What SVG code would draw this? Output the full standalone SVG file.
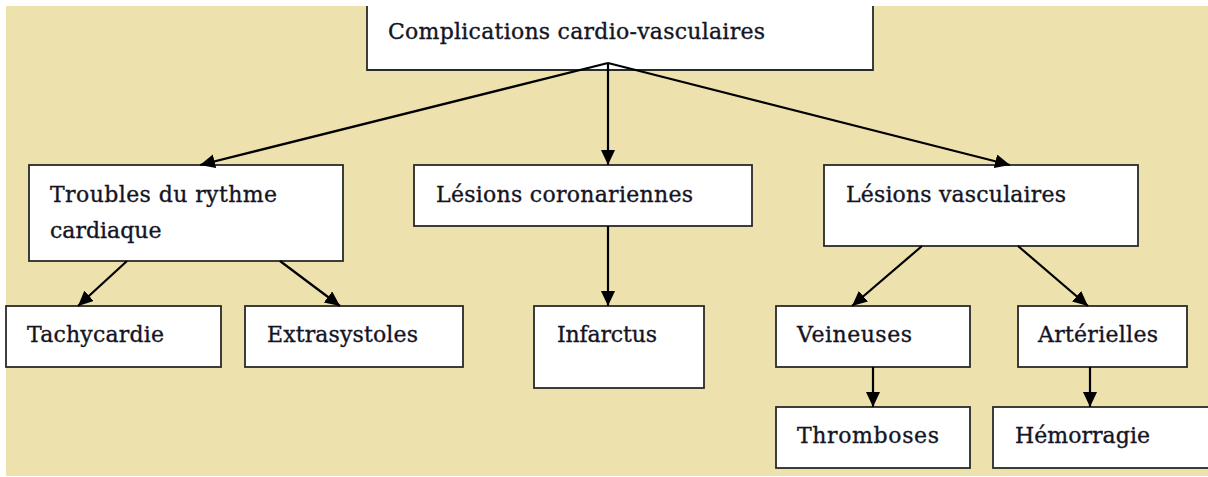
<svg xmlns="http://www.w3.org/2000/svg" width="1208" height="477" viewBox="0 0 1208 477">
<defs>
<style>
.box{fill:#fff;stroke:#2a2a2a;stroke-width:1.8}
.lbl{font-family:"DejaVu Serif","Liberation Serif",serif;font-size:22px;fill:#141424;stroke:#141424;stroke-width:0.35}
.con{stroke:#000;stroke-width:2.2;fill:none;marker-end:url(#ah)}
</style>
<marker id="ah" markerUnits="userSpaceOnUse" markerWidth="16" markerHeight="15" refX="15" refY="7" orient="auto">
<path d="M0,0 L15,7 L0,14 z" fill="#000"/>
</marker>
</defs>
<rect x="0" y="0" width="1208" height="477" fill="#fff"/>
<rect x="6" y="6" width="1202" height="470" fill="#EDE1AE"/>
<g id="n-root">
<rect x="367" y="0" width="506" height="70" fill="#fff"/>
<path d="M367,6 V70 H873 V6" fill="none" stroke="#2a2a2a" stroke-width="1.8"/>
<text class="lbl" x="388" y="39" textLength="377">Complications cardio-vasculaires</text>
</g>
<g id="n-troubles">
<rect class="box" x="29" y="165" width="314" height="96"/>
<text class="lbl" x="50" y="202" textLength="227">Troubles du rythme</text>
<text class="lbl" x="50" y="238">cardiaque</text>
</g>
<g id="n-coronariennes">
<rect class="box" x="414" y="165" width="338" height="61"/>
<text class="lbl" x="436" y="202" textLength="257">Lésions coronariennes</text>
</g>
<g id="n-vasculaires">
<rect class="box" x="824" y="165" width="314" height="81"/>
<text class="lbl" x="846" y="202" textLength="220">Lésions vasculaires</text>
</g>
<g id="n-tachycardie">
<rect class="box" x="6" y="306" width="215" height="61"/>
<text class="lbl" x="27" y="342" textLength="137">Tachycardie</text>
</g>
<g id="n-extrasystoles">
<rect class="box" x="245" y="306" width="218" height="61"/>
<text class="lbl" x="267" y="342" textLength="151">Extrasystoles</text>
</g>
<g id="n-infarctus">
<rect class="box" x="534" y="306" width="170" height="82"/>
<text class="lbl" x="557" y="342" textLength="100">Infarctus</text>
</g>
<g id="n-veineuses">
<rect class="box" x="776" y="306" width="194" height="61"/>
<text class="lbl" x="797" y="342" textLength="115">Veineuses</text>
</g>
<g id="n-arterielles">
<rect class="box" x="1018" y="306" width="169" height="61"/>
<text class="lbl" x="1038" y="342" textLength="120">Artérielles</text>
</g>
<g id="n-thromboses">
<rect class="box" x="776" y="407" width="194" height="61"/>
<text class="lbl" x="797" y="443" textLength="142">Thromboses</text>
</g>
<g id="n-hemorragie">
<rect class="box" x="993" y="407" width="230" height="61"/>
<text class="lbl" x="1015" y="443" textLength="135">Hémorragie</text>
</g>
<g id="connectors">
<line class="con" x1="608" y1="63" x2="200" y2="165"/>
<line class="con" x1="608" y1="63" x2="608" y2="165"/>
<line class="con" x1="608" y1="63" x2="1010" y2="165"/>
<line class="con" x1="127" y1="261" x2="78" y2="306"/>
<line class="con" x1="280" y1="261" x2="340" y2="306"/>
<line class="con" x1="608" y1="226" x2="608" y2="306"/>
<line class="con" x1="922" y1="246" x2="852" y2="306"/>
<line class="con" x1="1018" y1="246" x2="1088" y2="306"/>
<line class="con" x1="873" y1="367" x2="873" y2="407"/>
<line class="con" x1="1090" y1="367" x2="1090" y2="407"/>
</g>
</svg>
